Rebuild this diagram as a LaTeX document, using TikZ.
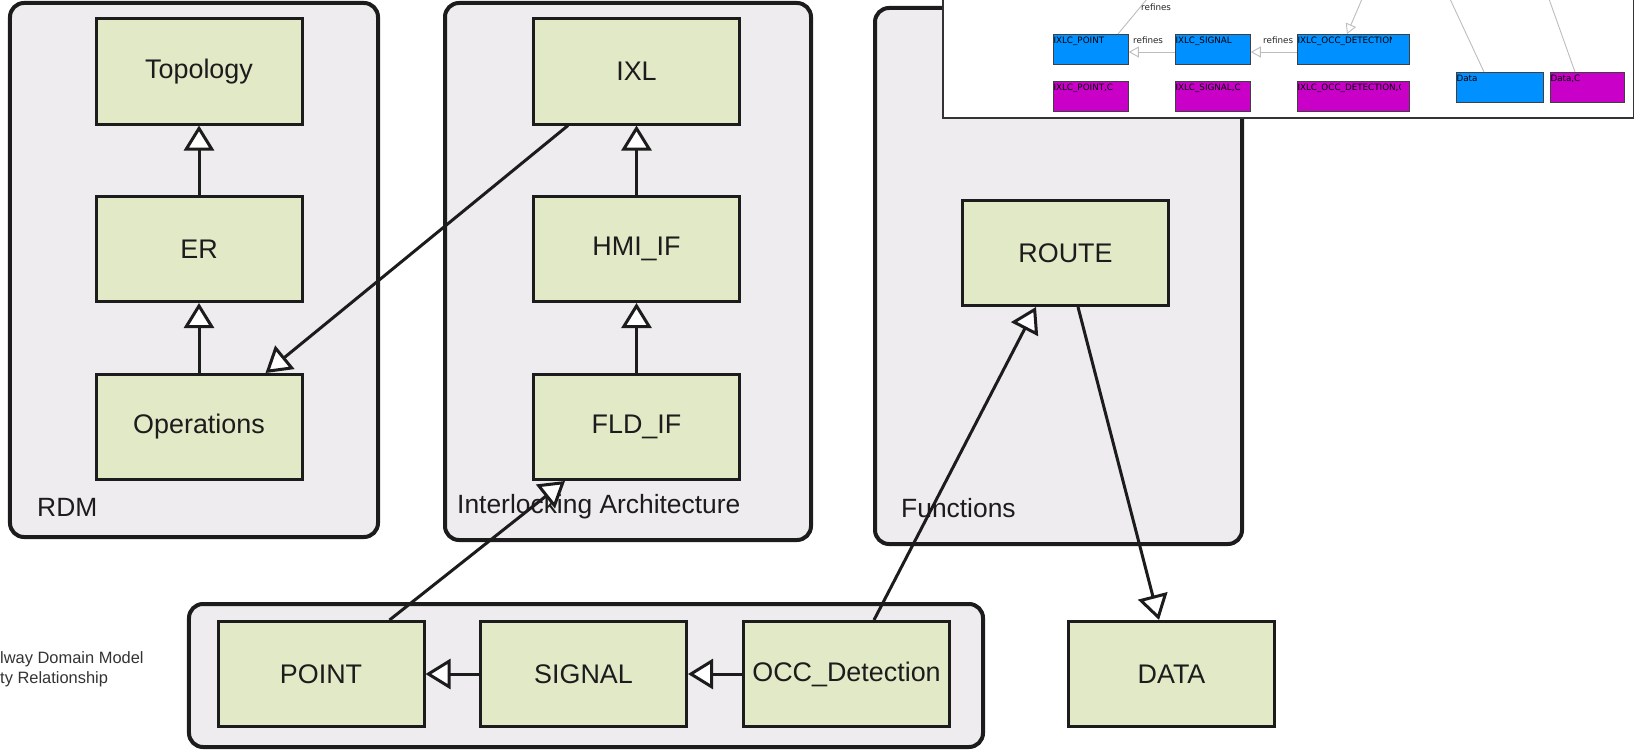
\documentclass[tikz,border=0pt]{standalone}
\usepackage{fontspec}
\setmainfont{Liberation Sans}
\newfontfamily\smallui{DejaVu Sans}
\usetikzlibrary{arrows.meta}
\definecolor{pkgfill}{HTML}{EEECEE}
\definecolor{clsfill}{HTML}{E2E9C6}
\definecolor{clsline}{HTML}{1C1C1C}
\definecolor{ixblue}{HTML}{0090FF}
\definecolor{ixpurple}{HTML}{C800C8}
\definecolor{ixline}{HTML}{BDBDBD}
\definecolor{notetext}{HTML}{333333}

\begin{document}
\begin{tikzpicture}[x=1bp,y=-1bp,
  pkg/.style={draw=clsline, line width=4bp, rounded corners=14bp, fill=pkgfill, inner sep=0pt},
  pkglabel/.style={anchor=west, inner sep=0pt, text=clsline, font=\fontsize{26.5}{30}\selectfont},
  cls/.style={draw=clsline, line width=3bp, fill=clsfill, minimum width=206bp, minimum height=105bp,
    inner sep=0pt, text=clsline, font=\fontsize{27}{32}\selectfont},
  inh/.style={draw=clsline, line width=3bp, line join=miter,
    -{Triangle[fill=white, length=25bp, width=30bp]}},
  ixbox/.style={draw=black!75, line width=0.8bp, anchor=north west, inner sep=0pt,
    minimum height=30bp},
  ixtext/.style={anchor=base west, inner sep=0pt, text=black, font=\smallui\fontsize{8.8}{10}\selectfont},
  reflabel/.style={anchor=base west, inner sep=0pt, text=black!85, font=\smallui\fontsize{8.8}{10}\selectfont},
  refline/.style={draw=ixline, line width=0.9bp},
  refarrow/.style={refline, -{Triangle[open, length=10bp, width=11bp]}},
  note/.style={anchor=base west, inner sep=0pt, text=notetext, font=\fontsize{16.5}{19}\selectfont}
]
\useasboundingbox (0,0) rectangle (1634,750);

% packages
\node[pkg, minimum width=368bp, minimum height=534bp] (rdm) at (194,270) {};
\node[pkg, minimum width=366bp, minimum height=537bp] (ia)  at (628,271.5) {};
\node[pkg, minimum width=367bp, minimum height=536bp] (fn)  at (1058.5,276) {};
\node[pkg, minimum width=794bp, minimum height=143bp] (hw)  at (586,675.5) {};

\node[pkglabel] (rdmlbl) at (37,507) {RDM};
\node[pkglabel] (ialbl)  at (457,507) {Interlocking Architecture};
\node[pkglabel] (fnlbl)  at (901,508) {Functions};

% classes
\node[cls] (topo) at (199,71.5) {Topology};
\node[cls] (er)   at (199,249)  {ER};
\node[cls] (ops)  at (199,427)  {Operations};

\node[cls] (ixl)  at (636.5,71.5) {IXL};
\node[cls] (hmi)  at (636.5,249)  {HMI\_IF};
\node[cls] (fld)  at (636.5,427)  {FLD\_IF};

\node[cls] (route) at (1065.5,253) {ROUTE};

\node[cls] (point)  at (321,674)    {POINT};
\node[cls] (signal) at (583.5,674)  {SIGNAL};
\node[cls] (occ)    at (846.5,674)  {OCC\_Detection};
\node[cls] (data)   at (1171.5,674) {DATA};

% generalisations
\draw[inh] (er.north)  -- (topo.south);
\draw[inh] (ops.north) -- (er.south);
\draw[inh] (hmi.north) -- (ixl.south);
\draw[inh] (fld.north) -- (hmi.south);
\draw[inh] (signal.west) -- (point.east);
\draw[inh] (occ.west) -- (signal.east);
\draw[inh] ([xshift=36bp]ixl.south west) -- ([xshift=171bp]ops.north west);
\draw[inh] ([xshift=173bp]point.north west) -- ([xshift=33bp]fld.south west);
\draw[inh] ([xshift=132bp]occ.north west) -- ([xshift=75bp]route.south west);
\draw[inh] ([xshift=117bp]route.south west) -- ([xshift=92bp]data.north west);

% legend text
\node[note] (n1) at (0,663) {lway Domain Model};
\node[note] (n2) at (0,683) {ty Relationship};

% embedded model view
\node[draw=black!80, line width=2bp, fill=white, anchor=south west, inner sep=0pt,
  minimum width=691bp, minimum height=140bp] (inset) at (942,119) {};

\node[ixbox, fill=ixblue,   minimum width=75bp]  (xpoint)   at (1053,34) {};
\node[ixbox, fill=ixblue,   minimum width=75bp]  (xsignal)  at (1175,34) {};
\node[ixbox, fill=ixblue,   minimum width=112bp] (xocc)     at (1297,34) {};
\node[ixbox, fill=ixpurple, minimum width=75bp]  (xpointc)  at (1053,81) {};
\node[ixbox, fill=ixpurple, minimum width=75bp]  (xsignalc) at (1175,81) {};
\node[ixbox, fill=ixpurple, minimum width=112bp] (xoccc)    at (1297,81) {};
\node[ixbox, fill=ixblue,   minimum width=87bp]  (xdata)    at (1456,72) {};
\node[ixbox, fill=ixpurple, minimum width=74bp]  (xdatac)   at (1550,72) {};

\node[ixtext] at ([xshift=0.3bp,yshift=-9.5bp]xpoint.north west)   {IXLC\_POINT};
\node[ixtext] at ([xshift=0.3bp,yshift=-9.5bp]xsignal.north west)  {IXLC\_SIGNAL};
\node[ixtext] at ([xshift=0.3bp,yshift=-9.5bp]xpointc.north west)  {IXLC\_POINT,C};
\node[ixtext] at ([xshift=0.3bp,yshift=-9.5bp]xsignalc.north west) {IXLC\_SIGNAL,C};
\node[ixtext] at ([xshift=0.3bp,yshift=-9.5bp]xdata.north west)    {Data};
\node[ixtext] at ([xshift=0.3bp,yshift=-9.5bp]xdatac.north west)   {Data,C};
\begin{scope}
  \clip (1296,34) rectangle (1391,63);
  \node[ixtext] at ([xshift=0.3bp,yshift=-9.5bp]xocc.north west) {IXLC\_OCC\_DETECTION};
\end{scope}
\begin{scope}
  \clip (1296,81) rectangle (1400,110);
  \node[ixtext] at ([xshift=0.3bp,yshift=-9.5bp]xoccc.north west) {IXLC\_OCC\_DETECTION,C};
\end{scope}

\coordinate (t1) at (1147,-1);
\coordinate (t2) at (1362,-1);
\coordinate (t3) at (1450,-1);
\coordinate (t4) at (1549,-1);
\draw[refline]  (t1) -- ([xshift=65bp]xpoint.north west);
\draw[refarrow] ([yshift=-18bp]xsignal.north west) -- ([yshift=-18bp]xpoint.north east);
\draw[refarrow] ([yshift=-18bp]xocc.north west) -- ([yshift=-18bp]xsignal.north east);
\draw[refarrow] (t2) -- ([xshift=50bp]xocc.north west);
\draw[refline]  (t3) -- ([xshift=28bp]xdata.north west);
\draw[refline]  (t4) -- ([xshift=25bp]xdatac.north west);

\node[reflabel] (r1) at (1141,11) {refines};
\node[reflabel] (r2) at (1133,44) {refines};
\node[reflabel] (r3) at (1263,44) {refines};
\end{tikzpicture}
\end{document}
